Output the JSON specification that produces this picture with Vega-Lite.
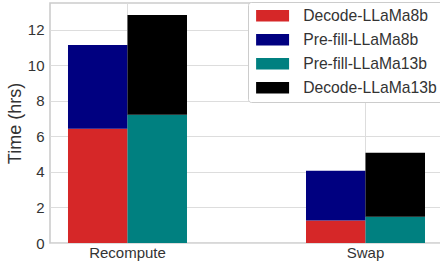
{
  "$schema": "https://vega.github.io/schema/vega-lite/v6.json",
  "width": 393,
  "height": 240,
  "autosize": {"type": "none"},
  "padding": {"left": 50, "top": 3, "right": 0, "bottom": 19},
  "background": "white",
  "config": {
    "font": "Liberation Sans",
    "view": {"stroke": "#cccccc", "strokeWidth": 1.6},
    "axis": {"gridColor": "#dddddd", "gridWidth": 1, "domain": false, "ticks": false, "labelColor": "#333333", "titleColor": "#333333", "labelFont": "Liberation Sans", "titleFont": "Liberation Sans", "titleFontWeight": "normal"}
  },
  "data": {
    "values": [
      {"method": "Recompute", "model": "8b", "series": "Decode-LLaMa8b", "hours": 6.42, "level": 1},
      {"method": "Recompute", "model": "8b", "series": "Pre-fill-LLaMa8b", "hours": 4.72, "level": 2},
      {"method": "Recompute", "model": "13b", "series": "Pre-fill-LLaMa13b", "hours": 7.21, "level": 1},
      {"method": "Recompute", "model": "13b", "series": "Decode-LLaMa13b", "hours": 5.62, "level": 2},
      {"method": "Swap", "model": "8b", "series": "Decode-LLaMa8b", "hours": 1.27, "level": 1},
      {"method": "Swap", "model": "8b", "series": "Pre-fill-LLaMa8b", "hours": 2.79, "level": 2},
      {"method": "Swap", "model": "13b", "series": "Pre-fill-LLaMa13b", "hours": 1.48, "level": 1},
      {"method": "Swap", "model": "13b", "series": "Decode-LLaMa13b", "hours": 3.59, "level": 2}
    ]
  },
  "mark": {"type": "bar"},
  "encoding": {
    "x": {
      "field": "method", "type": "nominal", "sort": ["Recompute", "Swap"],
      "scale": {"paddingInner": 0.5, "paddingOuter": 0.0756},
      "axis": {"title": null, "labelAngle": 0, "labelFontSize": 15, "labelPadding": 2, "bandPosition": 0.5, "grid": true}
    },
    "xOffset": {"field": "model", "type": "nominal", "sort": ["8b", "13b"], "scale": {"paddingInner": 0, "paddingOuter": 0}},
    "y": {
      "field": "hours", "type": "quantitative", "stack": "zero",
      "scale": {"domain": [0, 13.5], "nice": false},
      "axis": {"title": "Time (hrs)", "titleFontSize": 18, "labelFontSize": 15, "values": [0, 2, 4, 6, 8, 10, 12], "labelPadding": 6, "titlePadding": 3}
    },
    "order": {"field": "level", "type": "quantitative", "sort": "ascending"},
    "color": {
      "field": "series", "type": "nominal",
      "scale": {
        "domain": ["Decode-LLaMa8b", "Pre-fill-LLaMa8b", "Pre-fill-LLaMa13b", "Decode-LLaMa13b"],
        "range": ["#d62728", "#000080", "#008080", "#000000"]
      },
      "legend": {
        "title": null, "orient": "none", "legendX": 198, "legendY": -1,
        "fillColor": "white", "strokeColor": "#cccccc", "cornerRadius": 3, "padding": 6,
        "symbolType": "M-1,-1H4.74V1H-1Z", "symbolSize": 132, "symbolStrokeWidth": 0, "symbolOpacity": 1,
        "labelFontSize": 15.7, "labelColor": "#333333", "rowPadding": 7, "labelOffset": 33.5
      }
    }
  }
}
